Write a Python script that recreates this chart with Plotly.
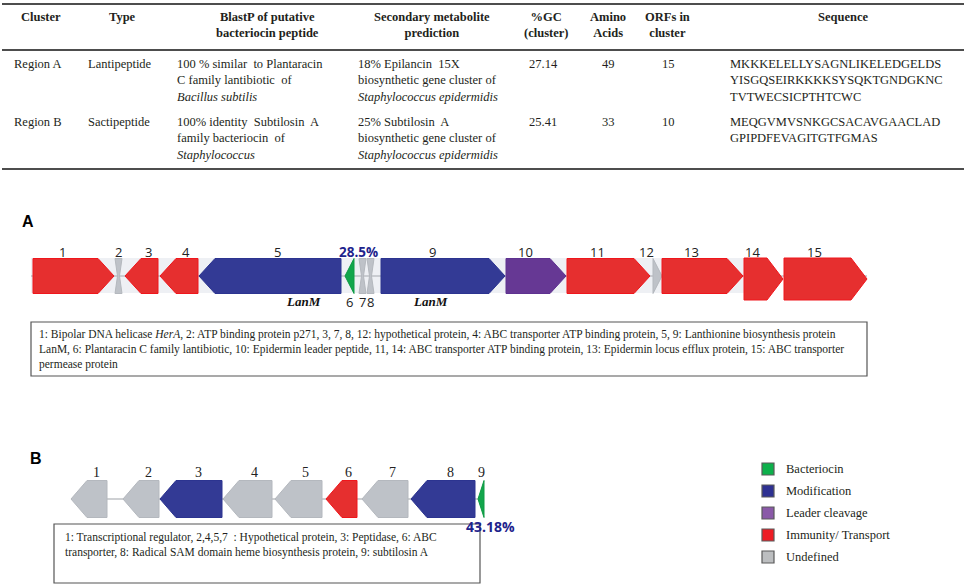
import plotly.graph_objects as go

# ---- table values ----
table_headers = ["Cluster", "Type", "BlastP of putative<br>bacteriocin peptide",
                 "Secondary metabolite<br>prediction", "%GC<br>(cluster)",
                 "Amino<br>Acids", "ORFs in<br>cluster", "Sequence"]
cluster_names = ["Region A", "Region B"]
cluster_types = ["Lantipeptide", "Sactipeptide"]
blastp_hits = ["100 % similar  to Plantaracin<br>C family lantibiotic  of<br><i>Bacillus subtilis</i>",
               "100% identity  Subtilosin  A<br>family bacteriocin  of<br><i>Staphylococcus</i>"]
secondary_hits = ["18% Epilancin  15X<br>biosynthetic gene cluster of<br><i>Staphylococcus epidermidis</i>",
                  "25% Subtilosin  A<br>biosynthetic gene cluster of<br><i>Staphylococcus epidermidis</i>"]
gc_cluster = ["27.14", "25.41"]
amino_acids = ["49", "33"]
orf_counts = ["15", "10"]
sequences = ["MKKKELELLYSAGNLIKELEDGELDS<br>YISGQSEIRKKKKSYSQKTGNDGKNC<br>TVTWECSICPTHTCWC",
             "MEQGVMVSNKGCSACAVGAACLAD<br>GPIPDFEVAGITGTFGMAS"]

# ---- gene cluster A ----
genes_a = ["1", "2", "3", "4", "5", "6", "7", "8", "9", "10", "11", "12", "13", "14", "15"]
start_a = [33, 115, 125, 160, 199, 345, 359, 367, 381, 506, 567, 653, 662, 744, 784]
end_a = [114, 122, 158, 198, 341, 354, 366, 374, 505, 566, 650, 662, 743, 783, 867]
strand_a = [1, 0, -1, -1, -1, -1, 0, 0, 1, 1, 1, 1, 1, 1, 1]
role_a = ["Immunity/ Transport", "Undefined", "Immunity/ Transport", "Immunity/ Transport",
          "Modification", "Bacteriocin", "Undefined", "Undefined", "Modification",
          "Leader cleavage", "Immunity/ Transport", "Undefined", "Immunity/ Transport",
          "Immunity/ Transport", "Immunity/ Transport"]
below_a = ["6", "7", "8"]
tall_a = ["14", "15"]
gc_peptide_a = "28.5%"
legend_a = ("1: Bipolar DNA helicase <i>HerA</i>, 2: ATP binding protein p271, 3, 7, 8, 12: hypothetical protein, "
            "4: ABC transporter ATP binding protein, 5, 9: Lanthionine biosynthesis protein<br>"
            "LanM, 6: Plantaracin C family lantibiotic, 10: Epidermin leader peptide, 11, 14: ABC transporter "
            "ATP binding protein, 13: Epidermin locus efflux protein, 15: ABC transporter<br>permease protein")

# ---- gene cluster B ----
genes_b = ["1", "2", "3", "4", "5", "6", "7", "8", "9"]
start_b = [71, 123, 160, 223, 275, 326, 362, 411, 478]
end_b = [107, 159, 222, 272, 322, 357, 408, 475, 484]
strand_b = [-1, -1, -1, -1, -1, -1, -1, -1, -1]
role_b = ["Undefined", "Undefined", "Modification", "Undefined", "Undefined",
          "Immunity/ Transport", "Undefined", "Modification", "Bacteriocin"]
gc_peptide_b = "43.18%"
legend_b = ("1: Transcriptional regulator, 2,4,5,7  : Hypothetical protein, 3: Peptidase, 6: ABC<br>"
            "transporter, 8: Radical SAM domain heme biosynthesis protein, 9: subtilosin A")

roles = ["Bacteriocin", "Modification", "Leader cleavage", "Immunity/ Transport", "Undefined"]

fill_colors = {"Bacteriocin": "#12A64C", "Modification": "#333A95", "Leader cleavage": "#663894",
               "Immunity/ Transport": "#E62F2F", "Undefined": "#BEC2C8"}
edge_colors = {"Bacteriocin": "#0E9A44", "Modification": "#2C3490", "Leader cleavage": "#5E3290",
               "Immunity/ Transport": "#F0161C", "Undefined": "#B4B8BE"}
swatch_colors = {"Bacteriocin": "#0DB04B", "Modification": "#2E3192", "Leader cleavage": "#8A59A8",
                 "Immunity/ Transport": "#ED1C24", "Undefined": "#BCBEC0"}

SERIF = "Liberation Serif"
SANS = "Open Sans"
TXT = "#231F20"
NAVY = "#1E238C"


def arrow(x0, x1, strand, yc, h, head=16):
    top, bot = yc - h / 2, yc + h / 2
    hl = min(head, x1 - x0)
    if strand > 0:
        return [x0, x1 - hl, x1, x1 - hl, x0, x0], [top, top, yc, bot, bot, top]
    if strand < 0:
        return [x1, x0 + hl, x0, x0 + hl, x1, x1], [top, top, yc, bot, bot, top]
    p = 2.5
    return [x0, x1, x1 - p, x1, x0, x0 + p, x0], [top, top, yc, bot, bot, yc, top]


fig = go.Figure()


def text(x, y, s, size, family=SERIF, color=TXT, xanchor="center", align="center", lines=1):
    # y is the centre of the first line
    yc = y + (lines - 1) * 1.3 * size / 2
    fig.add_annotation(x=x, y=yc, xref="x", yref="y", text=s, showarrow=False,
                       xanchor=xanchor, yanchor="middle", align=align,
                       font=dict(family=family, size=size, color=color))


def draw_cluster(names, starts, ends, strands, rolelist, yc, h, tall=()):
    for g, s, e, st, r in zip(names, starts, ends, strands, rolelist):
        if g in tall:
            xs, ys = arrow(s, e, st, yc + 3, h + 7)
        else:
            xs, ys = arrow(s, e, st, yc, h)
        fig.add_trace(go.Scatter(x=xs, y=ys, mode="lines", fill="toself",
                                 fillcolor=fill_colors[r],
                                 line=dict(color=edge_colors[r], width=1),
                                 hoverinfo="skip"))


def label_x(s, e, st, head=16):
    if st > 0:
        return (s + e - head) / 2 - 3
    if st < 0:
        return (s + head + e) / 2 - 1
    return (s + e) / 2


# ---- table ----
for y in (4, 50, 169):
    fig.add_shape(type="line", x0=2, x1=964, y0=y, y1=y, line=dict(color="#4D4D4D", width=2.2))

header_x = [41, 122, 267, 432, 546, 608, 667, 843]
for hx, h in zip(header_x, table_headers):
    text(hx, 17, "<b>" + h + "</b>", 12.5, lines=h.count("<br>") + 1)

row_y = [64, 122]
for i, ry in enumerate(row_y):
    text(12, ry, cluster_names[i], 12.5, xanchor="left", align="left")
    text(86, ry, cluster_types[i], 12.5, xanchor="left", align="left")
    text(175, ry, blastp_hits[i], 12.5, xanchor="left", align="left", lines=3)
    text(356, ry, secondary_hits[i], 12.5, xanchor="left", align="left", lines=3)
    text(543, ry, gc_cluster[i], 12.5)
    text(608, ry, amino_acids[i], 12.5)
    text(668, ry, orf_counts[i], 12.5)
    text(728, ry, sequences[i], 12.5, xanchor="left", align="left",
         lines=sequences[i].count("<br>") + 1)

# ---- panel A ----
text(20, 221, "<b>A</b>", 16, family="Liberation Sans", color="#000", xanchor="left")
fig.add_shape(type="rect", x0=31, x1=745, y0=258, y1=293, fillcolor="#EEF0F4",
              line=dict(width=0), layer="below")
fig.add_shape(type="line", x0=31, x1=867, y0=276, y1=276, line=dict(color="#A4A8AE", width=1.2),
              layer="below")
draw_cluster(genes_a, start_a, end_a, strand_a, role_a, 276, 35, tall=tall_a)
for g, s, e, st in zip(genes_a, start_a, end_a, strand_a):
    if g in below_a:
        text((s + e) / 2, 302, g, 13, family=SANS, color="#222")
    else:
        text(label_x(s, e, st), 252, g, 13, family=SANS, color="#222")
text(358, 252, "<b>" + gc_peptide_a + "</b>", 13.5, family=SANS, color=NAVY)
text(303, 301, "<b><i>LanM</i></b>", 13, color="#111")
text(430, 301, "<b><i>LanM</i></b>", 13, color="#111")

fig.add_shape(type="rect", x0=31, x1=867, y0=322, y1=376, fillcolor="white",
              line=dict(color="#555", width=1.2))
text(37, 335, legend_a, 11.5, xanchor="left", align="left", lines=3)

# ---- panel B ----
text(28, 458, "<b>B</b>", 16, family="Liberation Sans", color="#000", xanchor="left")
fig.add_shape(type="line", x0=71, x1=484, y0=499, y1=499, line=dict(color="#9EA2A8", width=1.2),
              layer="below")
draw_cluster(genes_b, start_b, end_b, strand_b, role_b, 499, 37)
for g, s, e, st in zip(genes_b, start_b, end_b, strand_b):
    text(label_x(s, e, st) if e - s > 16 else (s + e) / 2, 472, g, 14, color="#222")
text(464, 526, "<b>" + gc_peptide_b + "</b>", 14, family=SANS, color=NAVY, xanchor="left")

fig.add_shape(type="rect", x0=54, x1=480, y0=524, y1=583, fillcolor="white",
              line=dict(color="#555", width=1.2))
text(63, 538, legend_b, 11.5, xanchor="left", align="left", lines=2)

# ---- role legend ----
for i, r in enumerate(roles):
    fig.add_trace(go.Scatter(x=[768], y=[469 + i * 22], mode="markers",
                             marker=dict(symbol="square", size=12, color=swatch_colors[r],
                                         line=dict(color="#5A5A5A", width=1.2)),
                             hoverinfo="skip"))
    text(784, 469 + i * 22, r, 12.5, xanchor="left", align="left")

fig.update_layout(
    width=964, height=586,
    margin=dict(l=0, r=0, t=0, b=0),
    paper_bgcolor="white", plot_bgcolor="white",
    showlegend=False,
    xaxis=dict(range=[0, 964], visible=False, fixedrange=True),
    yaxis=dict(range=[586, 0], visible=False, fixedrange=True),
)

# drop the default page margin so the figure sits at the window origin
fig.write_html("out.html", config={"displayModeBar": False},
               post_script="document.body.style.margin='0px';")
